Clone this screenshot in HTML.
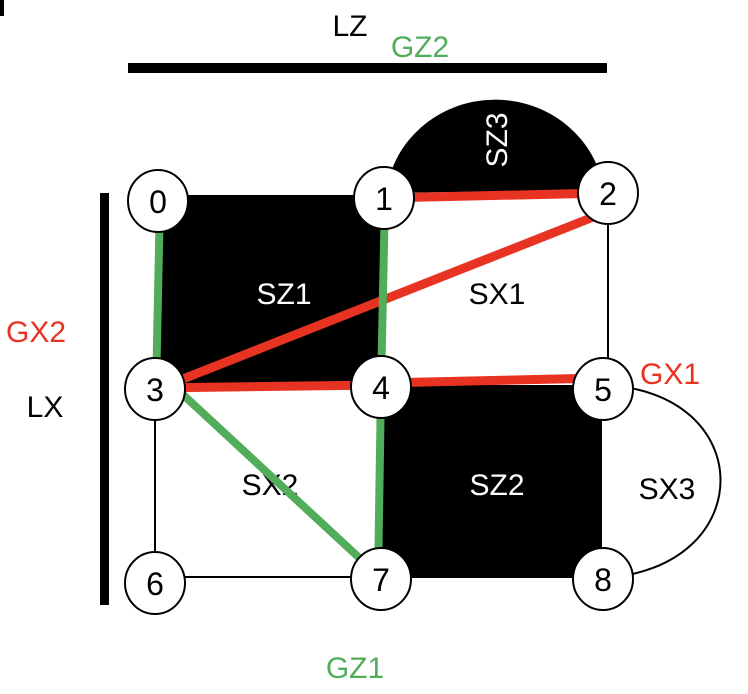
<!DOCTYPE html>
<html><head><style>
html,body{margin:0;padding:0;background:#fff;}
svg{display:block;}
text{font-family:"Liberation Sans","DejaVu Sans",sans-serif;}
</style></head><body>
<svg width="748" height="694" viewBox="0 0 748 694" xmlns="http://www.w3.org/2000/svg">
<rect x="0" y="0" width="4" height="16" fill="#000"/>
<polygon points="157,195 383,195 381,387 155,390" fill="#000"/>
<rect x="381" y="385" width="221" height="193" fill="#000"/>
<path d="M386,193 A110,106 0 0 1 604,190 Z" fill="#000"/>
<line x1="608" y1="190" x2="608" y2="385" stroke="#000" stroke-width="2"/>
<line x1="155" y1="390" x2="155" y2="582" stroke="#000" stroke-width="2"/>
<line x1="155" y1="577" x2="381" y2="577" stroke="#000" stroke-width="2"/>
<path d="M602,385 C760,390 760,570 602,578" fill="none" stroke="#000" stroke-width="2"/>
<rect x="128" y="63" width="479" height="10" fill="#000"/>
<rect x="100" y="193" width="9" height="412" fill="#000"/>
<g stroke="#e83323" stroke-width="9">
<line x1="383" y1="198" x2="606" y2="193"/>
<line x1="155" y1="390" x2="606" y2="212"/>
<line x1="155" y1="388" x2="381" y2="385"/>
<line x1="381" y1="383" x2="602" y2="378"/>
</g>
<g stroke="#52ad5b" stroke-width="8">
<line x1="160" y1="200" x2="156" y2="390"/>
<line x1="385" y1="198" x2="381" y2="387"/>
<line x1="381" y1="387" x2="378" y2="578"/>
</g>
<g fill="#fff" stroke="#000" stroke-width="2">
<ellipse cx="158" cy="201" rx="30" ry="31"/>
<ellipse cx="384" cy="198" rx="30" ry="31"/>
<ellipse cx="608" cy="193" rx="30" ry="31"/>
<ellipse cx="381" cy="387" rx="30" ry="31"/>
<ellipse cx="603" cy="389" rx="30" ry="31"/>
<ellipse cx="155" cy="583" rx="30" ry="31"/>
<ellipse cx="603" cy="579" rx="30" ry="31"/>
</g>
<g font-size="32" text-anchor="middle" fill="#000">
<text x="158" y="213">0</text>
<text x="384" y="210">1</text>
<text x="608" y="205">2</text>
<text x="381" y="399">4</text>
<text x="603" y="401">5</text>
<text x="155" y="595">6</text>
<text x="603" y="591">8</text>
</g>
<g font-size="30" text-anchor="middle">
<text x="350" y="36" fill="#000">LZ</text>
<text x="420" y="57" fill="#52ad5b">GZ2</text>
<text x="36" y="342" fill="#e83323">GX2</text>
<text x="45" y="417" fill="#000">LX</text>
<text x="670" y="384" fill="#e83323">GX1</text>
<text x="355" y="678" fill="#52ad5b">GZ1</text>
<text x="284" y="304" fill="#fff">SZ1</text>
<text x="497" y="304" fill="#000">SX1</text>
<text x="270" y="495" fill="#000">SX2</text>
<text x="497" y="495" fill="#fff">SZ2</text>
<text x="667" y="499" fill="#000">SX3</text>
<text x="0" y="0" fill="#fff" transform="translate(507,140) rotate(-90)">SZ3</text>
</g>
<line x1="165" y1="378" x2="381" y2="578" stroke="#52ad5b" stroke-width="8"/>
<ellipse cx="155" cy="389" rx="30" ry="31" fill="#fff" stroke="#000" stroke-width="2"/>
<text x="155" y="401" font-size="32" text-anchor="middle">3</text>
<ellipse cx="381" cy="579" rx="30" ry="31" fill="#fff" stroke="#000" stroke-width="2"/>
<text x="381" y="591" font-size="32" text-anchor="middle">7</text>
</svg>
</body></html>
